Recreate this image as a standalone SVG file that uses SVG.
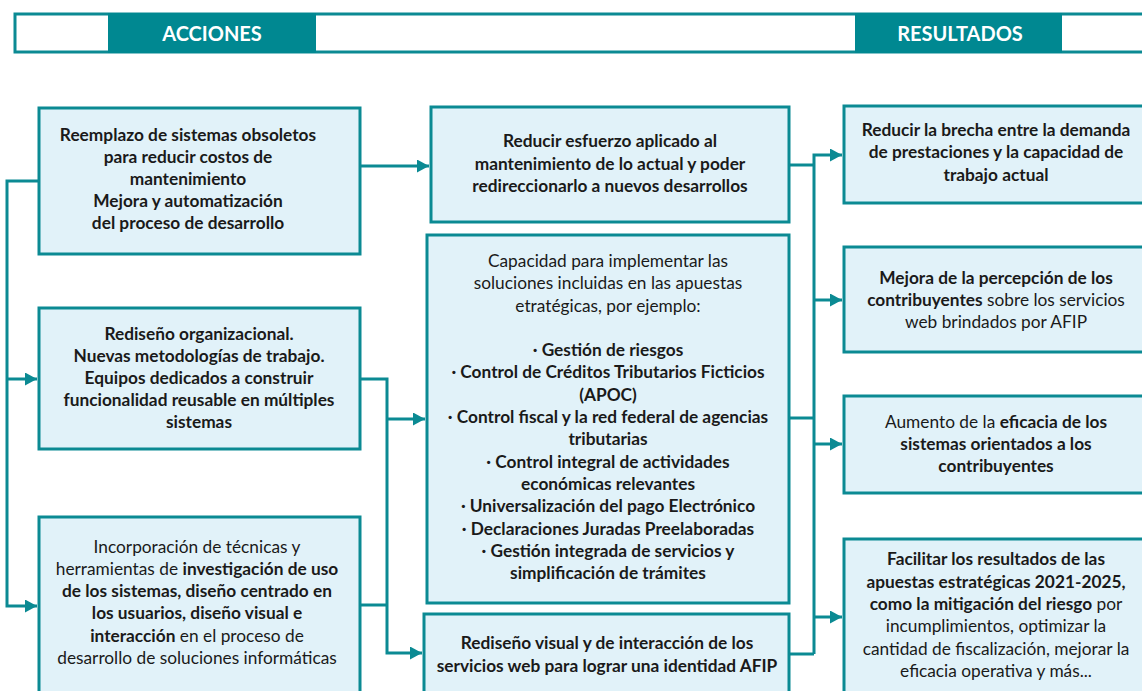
<svg xmlns="http://www.w3.org/2000/svg" width="1142" height="691" viewBox="0 0 1142 691">
<defs>
<marker id="arr" markerUnits="userSpaceOnUse" markerWidth="13" markerHeight="13" refX="12" refY="6.5" orient="auto">
<path d="M0,0 L12,6.5 L0,13 z" fill="#0b8a93"/>
</marker>
<style>
.box{fill:#e1f2f9;stroke:#0b8a93;stroke-width:3}
.t{font-family:Lato,"Liberation Sans",sans-serif;font-size:17.3px;fill:#1a1a1a;text-anchor:middle}
.b{font-weight:bold}
.n{font-weight:normal}
.hd{font-family:Lato,"Liberation Sans",sans-serif;font-size:20px;font-weight:bold;fill:#ffffff;text-anchor:middle}
.c{fill:none;stroke:#0b8a93;stroke-width:3}
</style>
</defs>
<rect width="1142" height="691" fill="#ffffff"/>
<g id="header">
<rect x="15" y="14" width="1140" height="38" fill="#ffffff" stroke="#0b8a93" stroke-width="3"/>
<rect x="108" y="13" width="208" height="40" fill="#008891"/>
<rect x="855" y="13" width="207" height="40" fill="#008891"/>
<text class="hd" x="212" y="41">ACCIONES</text>
<text class="hd" x="960" y="41">RESULTADOS</text>
</g>
<g id="connectors">
<path class="c" d="M39,181 H7 V606 H37" marker-end="url(#arr)"/>
<path class="c" d="M7,379 H37" marker-end="url(#arr)"/>
<path class="c" d="M360,166 H429" marker-end="url(#arr)"/>
<path class="c" d="M360,379 H387 V653 H422" marker-end="url(#arr)"/>
<path class="c" d="M387,419 H425" marker-end="url(#arr)"/>
<path class="c" d="M360,605 H387"/>
<path class="c" d="M789,165 H814"/>
<path class="c" d="M789,418 H814"/>
<path class="c" d="M789,654 H814"/>
<path class="c" d="M814,654 V155 H842" marker-end="url(#arr)"/>
<path class="c" d="M814,300 H842" marker-end="url(#arr)"/>
<path class="c" d="M814,444 H842" marker-end="url(#arr)"/>
<path class="c" d="M814,617 H842" marker-end="url(#arr)"/>
</g>
<g id="a1">
<rect class="box" x="39" y="108" width="321" height="146"/>
<text class="t b" x="188" y="141">Reemplazo de sistemas obsoletos</text>
<text class="t b" x="188" y="163">para reducir costos de</text>
<text class="t b" x="188" y="185">mantenimiento</text>
<text class="t b" x="188" y="207">Mejora y automatización</text>
<text class="t b" x="188" y="229">del proceso de desarrollo</text>
</g>
<g id="a2">
<rect class="box" x="39" y="308" width="321" height="141"/>
<text class="t b" x="199" y="340">Rediseño organizacional.</text>
<text class="t b" x="199" y="362">Nuevas metodologías de trabajo.</text>
<text class="t b" x="199" y="384">Equipos dedicados a construir</text>
<text class="t b" x="199" y="406">funcionalidad reusable en múltiples</text>
<text class="t b" x="199" y="428">sistemas</text>
</g>
<g id="a3">
<rect class="box" x="39" y="517" width="321" height="190"/>
<text class="t" x="197" y="553">Incorporación de técnicas y</text>
<text class="t" x="197" y="575">herramientas de <tspan class="b">investigación de uso</tspan></text>
<text class="t b" x="197" y="597">de los sistemas, diseño centrado en</text>
<text class="t b" x="197" y="619">los usuarios, diseño visual e</text>
<text class="t" x="197" y="642"><tspan class="b">interacción</tspan> en el proceso de</text>
<text class="t" x="197" y="664">desarrollo de soluciones informáticas</text>
</g>
<g id="m1">
<rect class="box" x="431" y="107" width="358" height="115"/>
<text class="t b" x="610" y="147">Reducir esfuerzo aplicado al</text>
<text class="t b" x="610" y="170">mantenimiento de lo actual y poder</text>
<text class="t b" x="610" y="192">redireccionarlo a nuevos desarrollos</text>
</g>
<g id="m2">
<rect class="box" x="427" y="235" width="362" height="368"/>
<text class="t" x="608" y="267">Capacidad para implementar las</text>
<text class="t" x="608" y="289">soluciones incluidas en las apuestas</text>
<text class="t" x="608" y="312">etratégicas, por ejemplo:</text>
<text class="t b" x="608" y="356">· Gestión de riesgos</text>
<text class="t b" x="608" y="378">· Control de Créditos Tributarios Ficticios</text>
<text class="t b" x="608" y="401">(APOC)</text>
<text class="t b" x="608" y="423">· Control fiscal y la red federal de agencias</text>
<text class="t b" x="608" y="445">tributarias</text>
<text class="t b" x="608" y="468">· Control integral de actividades</text>
<text class="t b" x="608" y="490">económicas relevantes</text>
<text class="t b" x="608" y="512">· Universalización del pago Electrónico</text>
<text class="t b" x="608" y="535">· Declaraciones Juradas Preelaboradas</text>
<text class="t b" x="608" y="557">· Gestión integrada de servicios y</text>
<text class="t b" x="608" y="579">simplificación de trámites</text>
</g>
<g id="m3">
<rect class="box" x="424" y="614" width="365" height="100"/>
<text class="t b" x="607" y="649">Rediseño visual y de interacción de los</text>
<text class="t b" x="607" y="672">servicios web para lograr una identidad AFIP</text>
</g>
<g id="r1">
<rect class="box" x="844" y="106" width="306" height="97"/>
<text class="t b" x="996" y="136">Reducir la brecha entre la demanda</text>
<text class="t b" x="996" y="158">de prestaciones y la capacidad de</text>
<text class="t b" x="996" y="181">trabajo actual</text>
</g>
<g id="r2">
<rect class="box" x="844" y="247" width="306" height="105"/>
<text class="t b" x="996" y="284">Mejora de la percepción de los</text>
<text class="t" x="996" y="306"><tspan class="b">contribuyentes</tspan> sobre los servicios</text>
<text class="t" x="996" y="328">web brindados por AFIP</text>
</g>
<g id="r3">
<rect class="box" x="844" y="396" width="306" height="97"/>
<text class="t" x="996" y="428">Aumento de la <tspan class="b">eficacia de los</tspan></text>
<text class="t b" x="996" y="450">sistemas orientados a los</text>
<text class="t b" x="996" y="472">contribuyentes</text>
</g>
<g id="r4">
<rect class="box" x="844" y="539" width="306" height="170"/>
<text class="t b" x="996" y="565">Facilitar los resultados de las</text>
<text class="t b" x="996" y="588">apuestas estratégicas 2021-2025,</text>
<text class="t" x="996" y="610"><tspan class="b">como la mitigación del riesgo</tspan> por</text>
<text class="t" x="996" y="632">incumplimientos, optimizar la</text>
<text class="t" x="996" y="655">cantidad de fiscalización, mejorar la</text>
<text class="t" x="996" y="677">eficacia operativa y más...</text>
</g>
</svg>
